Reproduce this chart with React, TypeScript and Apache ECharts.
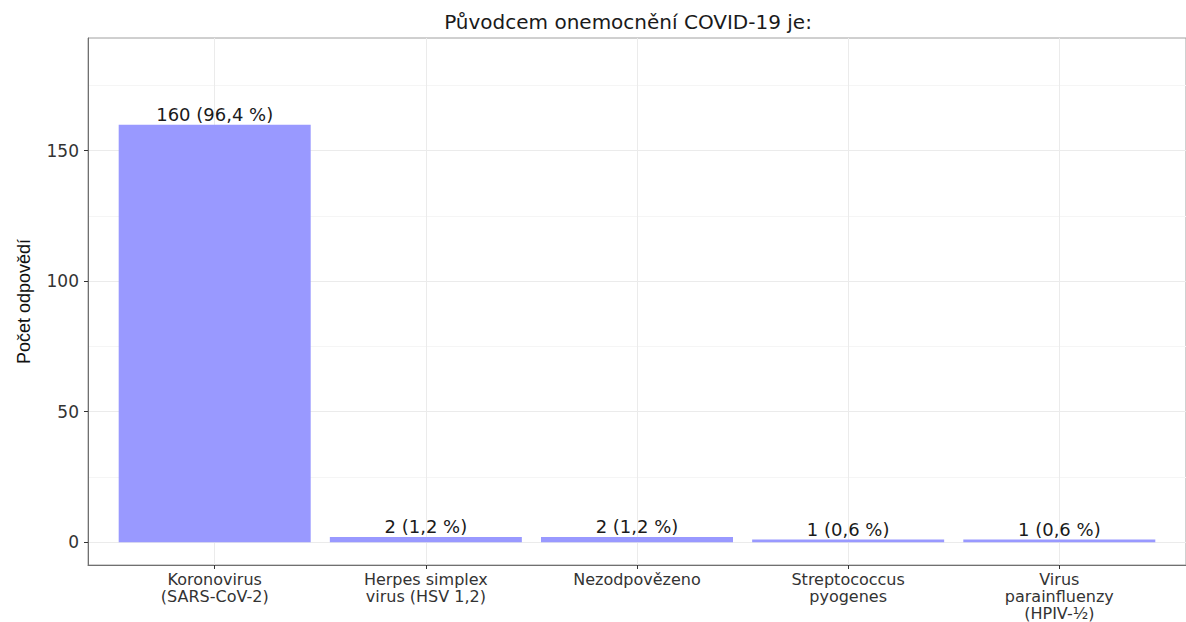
import React, { useEffect, useRef } from "react";
import * as echarts from "echarts";

const title = "Původcem onemocnění COVID-19 je:";
const yName = "Počet odpovědí";
const categories = [
  "Koronovirus\n(SARS-CoV-2)",
  "Herpes simplex\nvirus (HSV 1,2)",
  "Nezodpovězeno",
  "Streptococcus\npyogenes",
  "Virus\nparainfluenzy\n(HPIV-½)",
];
const counts = [160, 2, 2, 1, 1];
const percents = ["96,4", "1,2", "1,2", "0,6", "0,6"];
const yTicks = [0, 50, 100, 150];
const yMinorTicks = [25, 75, 125, 175];

const FONT = "'DejaVu Sans', Verdana, sans-serif";

export default function App() {
  const ref = useRef<HTMLDivElement>(null);
  useEffect(() => {
    if (!ref.current) return;
    const chart = echarts.init(ref.current, undefined, { renderer: "svg" });
    const xIdx = categories.map((_, i) => i);
    chart.setOption({
      animation: false,
      backgroundColor: "#ffffff",
      graphic: [
        {
          type: "text",
          x: 628,
          y: 22,
          style: {
            text: title,
            textAlign: "center",
            textVerticalAlign: "middle",
            fontFamily: FONT,
            fontSize: 20,
            fill: "#1a1a1a",
          },
        },
      ],
      grid: {
        left: 88,
        top: 38,
        right: -11,
        bottom: 53,
        show: true,
        borderColor: "#a0a0a0",
        borderWidth: 1,
        backgroundColor: "transparent",
      },
      xAxis: {
        type: "value",
        min: -0.6,
        max: 4.6,
        axisLine: { show: true, onZero: false, lineStyle: { color: "#707070", width: 1 } },
        axisTick: {
          show: true,
          customValues: xIdx,
          length: 4,
          lineStyle: { color: "#333" },
        },
        axisLabel: {
          customValues: xIdx,
          formatter: (v: number) => categories[Math.round(v)] ?? "",
          fontFamily: FONT,
          fontSize: 16,
          lineHeight: 17,
          color: "#333",
          margin: 6,
        },
        splitLine: { show: true, lineStyle: { color: "#ebebeb", width: 1 } },
      },
      yAxis: [
        {
          type: "value",
          min: -8.75,
          max: 193.2,
          name: yName,
          nameLocation: "middle",
          nameGap: 55,
          nameTextStyle: {
            fontFamily: "'Liberation Sans', Arial, sans-serif",
            fontSize: 18,
            color: "#111",
          },
          axisLine: { show: true, onZero: false, lineStyle: { color: "#707070", width: 1 } },
          axisTick: {
            show: true,
            customValues: yTicks,
            length: 4,
            lineStyle: { color: "#333" },
          },
          axisLabel: {
            customValues: yTicks,
            fontFamily: FONT,
            fontSize: 17,
            color: "#333",
            margin: 9,
          },
          splitLine: { show: true, lineStyle: { color: "#ebebeb", width: 1 } },
        },
        {
          type: "value",
          min: -8.75,
          max: 193.2,
          position: "left",
          axisLine: { show: false },
          axisTick: { show: false, customValues: yMinorTicks },
          axisLabel: { show: false, customValues: yMinorTicks },
          splitLine: { show: true, lineStyle: { color: "#f5f5f5", width: 1 } },
        },
      ],
      series: [
        {
          type: "bar",
          xAxisIndex: 0,
          yAxisIndex: 0,
          data: counts.map((c, i) => [xIdx[i], c]),
          barWidth: 192,
          itemStyle: { color: "#9999ff" },
          label: {
            show: true,
            position: "top",
            distance: 1,
            formatter: (p: any) => `${counts[p.dataIndex]} (${percents[p.dataIndex]} %)`,
            fontFamily: FONT,
            fontSize: 18,
            color: "#1a1a1a",
          },
        },
      ],
    });
    return () => chart.dispose();
  }, []);
  return (
    <div
      ref={ref}
      style={{ position: "absolute", left: 0, top: 0, width: 1186, height: 622 }}
    />
  );
}
